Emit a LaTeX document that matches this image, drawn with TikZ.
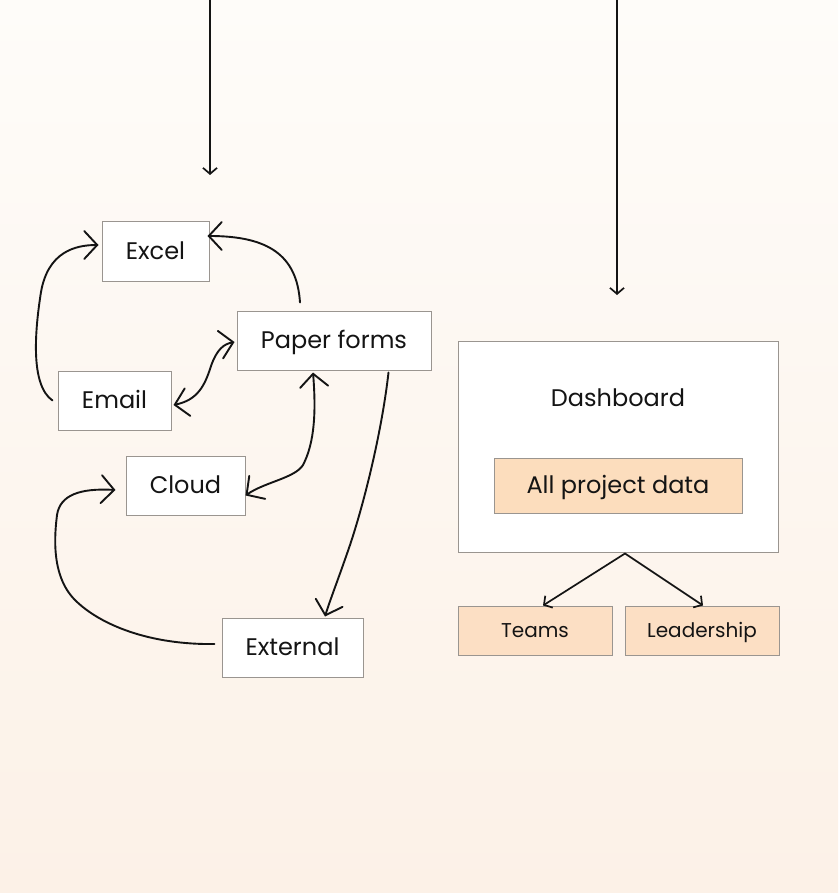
\documentclass[tikz,border=0pt]{standalone}
\usepackage{fontspec}
\setmainfont{Poppins}
\usetikzlibrary{arrows.meta,calc}
\definecolor{ink}{HTML}{141414}
\definecolor{edge}{HTML}{9A9590}
\definecolor{peach}{HTML}{FCDDBD}
\definecolor{peachb}{HTML}{FCDFC4}
\definecolor{bgtop}{HTML}{FEFCF9}
\definecolor{bgbot}{HTML}{FCF1E7}
\tikzset{
  box/.style={draw=edge, line width=1pt, fill=white, text=ink, inner sep=0pt,
    font=\fontsize{24}{28}\selectfont, text height=16.8pt, text depth=0pt},
  databox/.style={box, fill=peach},
  smallbox/.style={draw=edge, line width=1pt, fill=peachb, text=ink, inner sep=0pt,
    font=\fontsize{20}{24}\selectfont, text height=14pt, text depth=0pt},
  conn/.style={draw=ink, line width=1.9pt, line cap=round},
  hand/.style={conn, -{Straight Barb[length=13pt,width=28pt,line cap=round]}},
  handboth/.style={conn, {Straight Barb[length=13pt,width=28pt,line cap=round]}-{Straight Barb[length=13pt,width=28pt,line cap=round]}},
  straightarr/.style={conn, line width=1.7pt, -{Straight Barb[length=6pt,width=14pt]}},
}
\begin{document}
\begin{tikzpicture}[x=1pt,y=-1pt]
\useasboundingbox (0,0) rectangle (838,893);
\shade[top color=bgtop, bottom color=bgbot] (0,0) rectangle (838,893);

% left cluster
\node[box, minimum width=107pt, minimum height=59pt] (excel) at (155.5,251.5) {Excel};
\node[box, minimum width=194pt, minimum height=59pt] (paper) at (334,340.5) {Paper forms};
\node[box, minimum width=113pt, minimum height=59pt] (email) at (114.5,400.5) {Email};
\node[box, minimum width=119pt, minimum height=59pt] (cloud) at (185.5,485.5) {Cloud};
\node[box, minimum width=141pt, minimum height=59pt] (external) at (292.5,647.5) {External};

% right cluster
\node[box, minimum width=320pt, minimum height=211pt] (dash) at (618,446.5) {};
\node[text=ink, font=\fontsize{24}{28}\selectfont, text height=16.8pt, text depth=0pt, inner sep=0pt] (dashlabel) at (618,398) {Dashboard};
\node[databox, minimum width=248pt, minimum height=55pt] (data) at (618,485.5) {All project data};
\node[smallbox, minimum width=154pt, minimum height=49pt] (teams) at (535,630.5) {Teams};
\node[smallbox, minimum width=154pt, minimum height=49pt] (lead) at (702,630.5) {Leadership};

% incoming straight arrows
\coordinate (inleft) at (210,-2);
\coordinate (inright) at (617,-2);
\draw[straightarr] (inleft) -- (210,175);
\draw[straightarr] (inright) -- (617,295);

% dashboard fan-out
\draw[straightarr] ($(dash.south)+(7,1)$) -- ($(teams.north)+(8,0)$);
\draw[straightarr] ($(dash.south)+(7,1)$) -- ($(lead.north)+(1,0)$);

% hand-drawn connectors
\draw[hand] ($(paper.north)+(-34,-8)$) .. controls (297,255) and (268,236) .. ($(excel.east)+(-2,-15.5)$);
\draw[hand] ($(email.west)+(-5,0)$) .. controls (30,385) and (35,330) .. (41,292)
   .. controls (48,252) and (75,245) .. ($(excel.west)+(-3,-6.5)$);
\draw[handboth] ($(email.east)+(2,4.5)$) .. controls (198,400) and (205,385) .. (211,366)
   .. controls (217,349) and (224,344) .. ($(paper.west)+(-2,1.5)$);
\draw[handboth] ($(paper.south)+(-21,2)$) .. controls (316,410) and (315,442) .. (303,465)
   .. controls (295,478) and (265,482) .. ($(cloud.east)+(0,10)$);
\draw[hand] ($(paper.south east)+(-43,2)$) .. controls (382,430) and (365,500) .. (350,545)
   .. controls (338,580) and (330,600) .. ($(external.north)+(32.5,-1)$);
\draw[hand] ($(external.west)+(-7,-3.5)$) .. controls (150,645) and (100,625) .. (75,600)
   .. controls (50,575) and (55,532) .. (57,515)
   .. controls (60,495) and (80,488) .. ($(cloud.west)+(-10,4.5)$);
\end{tikzpicture}
\end{document}
